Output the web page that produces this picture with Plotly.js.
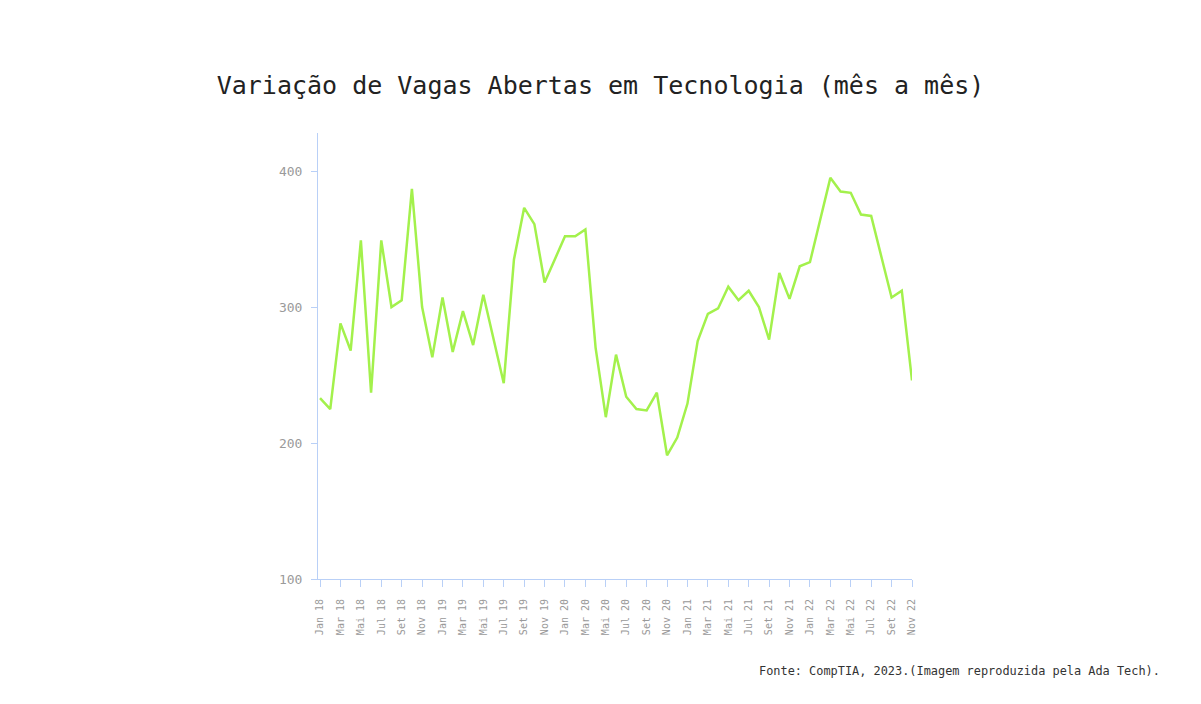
<!DOCTYPE html>
<html>
<head>
<meta charset="utf-8">
<script src="https://cdn.plot.ly/plotly-3.0.1.min.js"></script>
<style>html,body{margin:0;padding:0;background:#fff;}#chart{width:1201px;height:704px;}</style>
</head>
<body>
<div id="chart"></div>
<script>
const months = ["Jan","Fev","Mar","Abr","Mai","Jun","Jul","Ago","Set","Out","Nov","Dez"];
const years = ["18","19","20","21","22"];
const vagas2018 = [233, 225, 288, 268, 349, 237, 349, 300, 305, 387, 300, 263];
const vagas2019 = [307, 267, 297, 272, 309, 277, 244, 335, 373, 361, 318, 335];
const vagas2020 = [352, 352, 357, 270, 219, 265, 234, 225, 224, 237, 191, 204];
const vagas2021 = [229, 275, 295, 299, 315, 305, 312, 300, 276, 325, 306, 330];
const vagas2022 = [333, 364, 395, 385, 384, 368, 367, 337, 307, 312, 246];
const yTicks = [100, 200, 300, 400];

const values = [].concat(vagas2018, vagas2019, vagas2020, vagas2021, vagas2022);
const categories = [];
years.forEach(y => months.forEach(m => categories.push(m + " " + y)));
categories.length = values.length;
const tickCats = categories.filter((c, i) => i % 2 === 0);

const axisColor = "#b9d0f7";
const mono = "DejaVu Sans Mono, Liberation Mono, monospace";

const trace = {
  x: categories,
  y: values,
  type: "scatter",
  mode: "lines",
  line: {color: "#a3f14c", width: 2.5},
  hoverinfo: "x+y"
};

const layout = {
  width: 1201, height: 704,
  paper_bgcolor: "#ffffff", plot_bgcolor: "#ffffff",
  margin: {l: 318, r: 289, t: 133, b: 125},
  showlegend: false,
  title: {
    text: "Variação de Vagas Abertas em Tecnologia (mês a mês)",
    font: {family: mono, size: 25, color: "#222222"},
    x: 0.5, xanchor: "center", xref: "container",
    y: 1 - 85/704, yanchor: "middle", yref: "container"
  },
  xaxis: {
    type: "category",
    range: [-0.2, values.length - 1],
    tickmode: "array",
    tickvals: tickCats,
    ticktext: tickCats,
    tickangle: -90,
    ticks: "outside", ticklen: 7, tickcolor: axisColor, tickwidth: 1,
    showline: true, linecolor: axisColor, linewidth: 1,
    showgrid: false, zeroline: false,
    tickfont: {family: mono, size: 10, color: "#999999"},
    ticklabelstandoff: 8,
    fixedrange: true
  },
  yaxis: {
    range: [100, 428],
    tickmode: "array",
    tickvals: yTicks,
    ticktext: yTicks.map(String),
    ticks: "outside", ticklen: 6, tickcolor: axisColor, tickwidth: 1,
    showline: true, linecolor: axisColor, linewidth: 1,
    showgrid: false, zeroline: false,
    tickfont: {family: mono, size: 13, color: "#9a9a9a"},
    ticklabelstandoff: 6,
    fixedrange: true
  },
  annotations: [{
    text: "Fonte: CompTIA, 2023.(Imagem reproduzida pela Ada Tech).",
    xref: "paper", yref: "paper",
    x: (1162 - 318) / 594, y: (579 - 671) / 446,
    xanchor: "right", yanchor: "middle",
    showarrow: false,
    font: {family: mono, size: 11.9, color: "#333333"}
  }]
};

Plotly.newPlot("chart", [trace], layout, {displayModeBar: false, staticPlot: true});
</script>
</body>
</html>
